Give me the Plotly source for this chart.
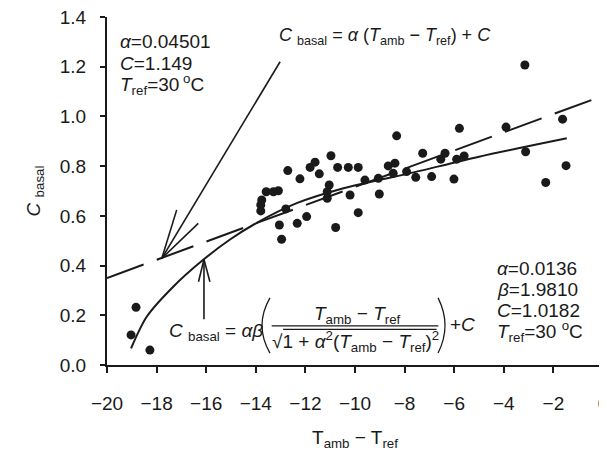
import plotly.graph_objects as go

# ---- data ----
obs_dT = [-18.83, -19.03, -18.27,
          -12.71, -12.22, -11.81, -11.61, -10.97, -11.44, -10.70, -10.27, -9.87, -9.60,
          -13.58, -13.29, -13.09, -13.76, -13.80, -13.80, -12.79, -13.05, -12.96, -12.33,
          -11.95, -11.04, -11.12, -11.12, -10.78, -10.20, -9.87,
          -8.32, -5.79, -9.06, -9.02, -8.66, -8.39, -8.46, -7.92, -7.55, -7.27, -6.91,
          -6.54, -6.37, -6.01, -5.90, -5.60,
          -3.15, -3.91, -1.63, -3.12, -1.49, -2.31]
obs_c = [0.232, 0.121, 0.060,
         0.782, 0.749, 0.795, 0.816, 0.842, 0.769, 0.795, 0.795, 0.795, 0.744,
         0.697, 0.697, 0.701, 0.664, 0.644, 0.620, 0.628, 0.563, 0.506, 0.570,
         0.597, 0.724, 0.697, 0.671, 0.553, 0.684, 0.613,
         0.922, 0.952, 0.751, 0.688, 0.801, 0.812, 0.771, 0.778, 0.755, 0.852, 0.758,
         0.828, 0.852, 0.748, 0.828, 0.841,
         1.207, 0.957, 0.989, 0.858, 0.802, 0.734]

lin_dT = [-20.0, -0.46]
lin_c = [0.35, 1.066]

nl_dT = [-19.03, -18.4, -17.33, -16.12, -15.04, -13.96, -12.35, -10.5, -9.0, -7.8, -5.0, -1.46]
nl_c = [0.067, 0.194, 0.315, 0.423, 0.505, 0.572, 0.651, 0.710, 0.745, 0.771, 0.838, 0.912]

x_ticks = [-20, -18, -16, -14, -12, -10, -8, -6, -4, -2, 0]
y_ticks = [0.0, 0.2, 0.4, 0.6, 0.8, 1.0, 1.2, 1.4]

FONT = "Liberation Sans, Arial, sans-serif"
INK = "#1a1a1a"
FS = 19

fig = go.Figure()
fig.add_trace(go.Scatter(x=lin_dT, y=lin_c, mode="lines",
                         line=dict(color=INK, width=2, dash="39px,14px"),
                         showlegend=False, hoverinfo="skip"))
fig.add_trace(go.Scatter(x=nl_dT, y=nl_c, mode="lines",
                         line=dict(color=INK, width=2, shape="spline", smoothing=0.8),
                         showlegend=False, hoverinfo="skip"))
fig.add_trace(go.Scatter(x=obs_dT, y=obs_c, mode="markers",
                         marker=dict(color=INK, size=9),
                         showlegend=False))

def txt(x, y, s, size=FS, xanchor="left", yanchor="middle"):
    fig.add_annotation(x=x, y=y, xref="x", yref="y", text=s, showarrow=False,
                       xanchor=xanchor, yanchor=yanchor,
                       font=dict(family=FONT, size=size, color=INK))

def seg(x0, y0, x1, y1, w=1.6):
    fig.add_shape(type="line", x0=x0, y0=y0, x1=x1, y1=y1, xref="x", yref="y",
                  line=dict(color=INK, width=w))

def paren(xe, xc, ytop, ybot, w=1.3):
    ym = (ytop + ybot) / 2
    fig.add_shape(type="path", xref="x", yref="y",
                  path=f"M {xe},{ytop} Q {xc},{ym} {xe},{ybot}",
                  line=dict(color=INK, width=w))

# top-left parameter block
txt(-19.56, 1.301, "<i>α</i>=0.04501")
txt(-19.56, 1.214, "<i>C</i>=1.149")
txt(-19.56, 1.127, "<i>T</i><sub>ref</sub>=30<sup> o</sup>C")

# linear formula
txt(-13.15, 1.321, "<i>C</i> <sub>basal</sub> = <i>α</i> (<i>T</i><sub>amb</sub> − <i>T</i><sub>ref</sub>) + <i>C</i>", size=18)

# bottom-right parameter block
txt(-4.35, 0.389, "<i>α</i>=0.0136")
txt(-4.35, 0.305, "<i>β</i>=1.9810")
txt(-4.35, 0.221, "<i>C</i>=1.0182")
txt(-4.35, 0.134, "<i>T</i><sub>ref</sub>=30 <sup>o</sup>C")

# nonlinear formula
txt(-17.58, 0.134, "<i>C</i> <sub>basal</sub> = <i>αβ</i>")
paren(-13.43, -14.07, 0.270, 0.048)
txt(-9.91, 0.201, "<i>T</i><sub>amb</sub> − <i>T</i><sub>ref</sub>", xanchor="center")
txt(-9.99, 0.094, "√1 + <i>α</i><sup>2</sup>(<i>T</i><sub>amb</sub> − <i>T</i><sub>ref</sub>)<sup>2</sup>", xanchor="center")
paren(-6.65, -6.09, 0.270, 0.048)
txt(-6.25, 0.161, "+<i>C</i>")
seg(-13.36, 0.157, -6.64, 0.157, w=1.2)
seg(-12.9, 0.143, -6.71, 0.143, w=1.2)

# arrow to the linear fit
seg(-13.02, 1.22, -17.79, 0.429)
seg(-17.79, 0.429, -17.19, 0.624)
seg(-17.79, 0.429, -16.32, 0.570)
# arrow to the nonlinear fit
seg(-16.09, 0.184, -16.09, 0.425)
seg(-16.09, 0.425, -16.31, 0.335)
seg(-16.09, 0.425, -15.85, 0.335)

fig.update_xaxes(range=[-20, 0], tickvals=x_ticks, ticks="outside", ticklen=6, tickwidth=1.6,
                 tickcolor=INK, showline=True, linecolor=INK, linewidth=2, showgrid=False,
                 zeroline=False, ticklabelstandoff=14, ticklabeloverflow="allow",
                 tickfont=dict(family=FONT, size=FS, color=INK),
                 title=dict(text="T<sub>amb</sub> − T<sub>ref</sub>", standoff=18,
                            font=dict(family=FONT, size=FS, color=INK)))
fig.update_yaxes(range=[0, 1.4], tickvals=y_ticks, tickformat=".1f", ticks="outside", ticklen=5,
                 tickwidth=1.6, tickcolor=INK, showline=True, linecolor=INK, linewidth=2,
                 showgrid=False, zeroline=False, ticklabelstandoff=10, ticklabeloverflow="allow",
                 tickfont=dict(family=FONT, size=FS, color=INK),
                 title=dict(text="<i>C</i> <sub>basal</sub>", standoff=14,
                            font=dict(family=FONT, size=FS, color=INK)))

# the page body has an 8px default margin; margins compensate so the plot sits where it should
fig.update_layout(width=607, height=453, margin=dict(l=99, r=12, t=9, b=96, autoexpand=False),
                  plot_bgcolor="white", paper_bgcolor="white")

fig.write_html("out.html")
